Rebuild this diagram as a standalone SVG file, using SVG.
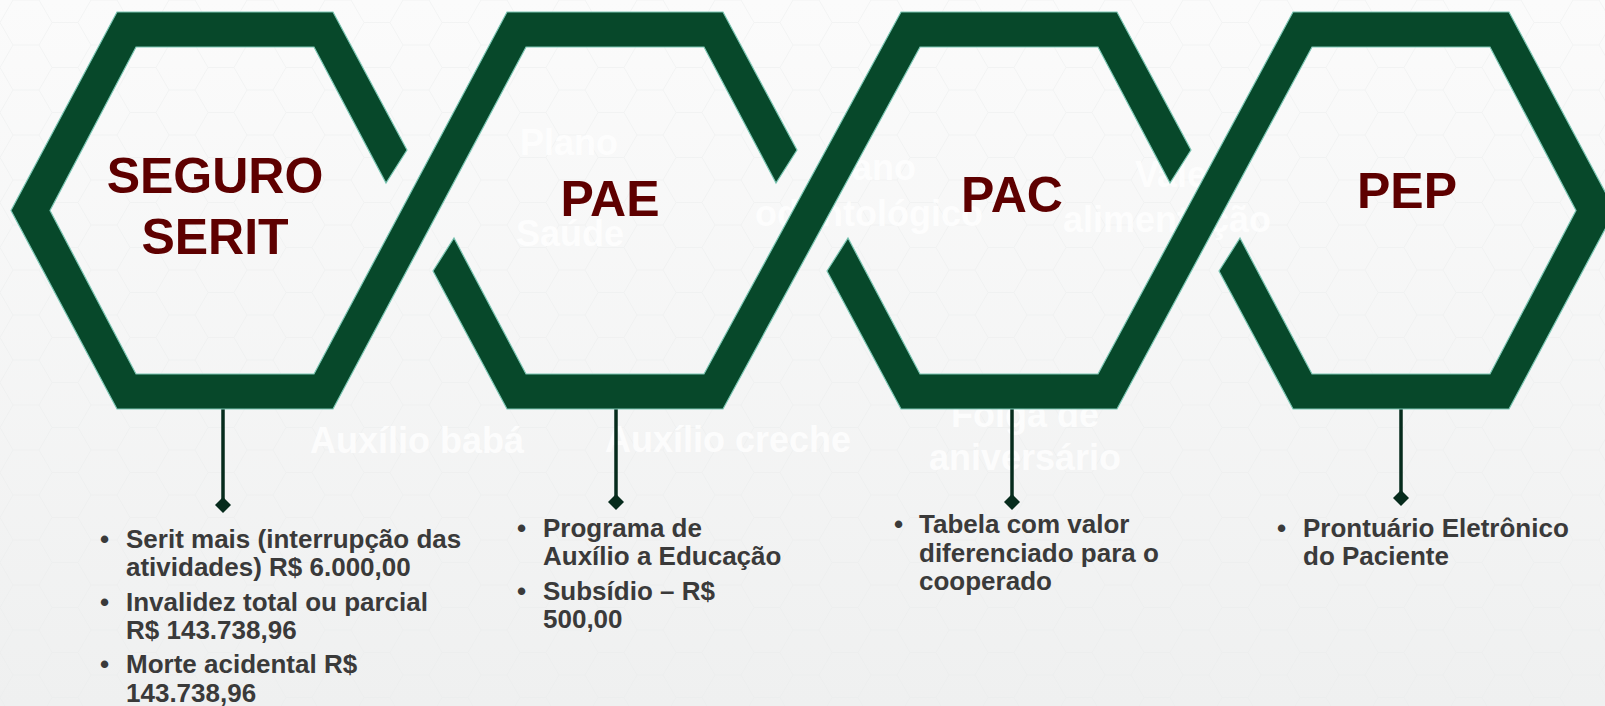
<svg xmlns="http://www.w3.org/2000/svg" width="1605" height="706" viewBox="0 0 1605 706">
<defs>
<linearGradient id="bg" x1="0" y1="0" x2="0" y2="1">
<stop offset="0" stop-color="#fbfbfb"/>
<stop offset="1" stop-color="#eff0f0"/>
</linearGradient>
<pattern id="honey" width="78" height="45" patternUnits="userSpaceOnUse">
<path d="M0,22.5 L13,0 L39,0 L52,22.5 L39,45 L13,45 Z M52,22.5 L78,22.5" fill="none" stroke="#e9ebeb" stroke-width="1"/>
</pattern>
<style>
.hex{fill:#07482a;stroke:#7cc6b4;stroke-width:1.2;stroke-linejoin:miter}
.title{font-family:"Liberation Sans",Arial,sans-serif;font-weight:bold;font-size:50px;fill:#5e0000;text-anchor:middle}
.item{font-family:"Liberation Sans",Arial,sans-serif;font-weight:bold;font-size:26px;fill:#3a3a3a}
.ghost{font-family:"Liberation Sans",Arial,sans-serif;font-weight:bold;font-size:36px;fill:#ffffff;opacity:0.8}
.bgline{stroke:#ffffff;stroke-width:2;fill:none;opacity:0.8}
.conn{stroke:#062b1c;stroke-width:3.5;fill:none}
.dia{fill:#062b1c}
</style>
</defs>
<rect width="1605" height="706" fill="url(#bg)"/>
<rect width="1605" height="706" fill="url(#honey)" opacity="0.45"/>
<g id="ghost-text">
<text class="ghost" x="520" y="155">Plano</text>
<text class="ghost" x="516" y="246">Saúde</text>
<text class="ghost" x="818" y="180">Plano</text>
<text class="ghost" x="755" y="226">odontológico</text>
<text class="ghost" x="1135" y="187">Vale</text>
<text class="ghost" x="1063" y="232">alimentação</text>
<text class="ghost" x="310" y="453">Auxílio babá</text>
<text class="ghost" x="605" y="452">Auxílio creche</text>
<text class="ghost" x="1025" y="427" text-anchor="middle">Folga de</text>
<text class="ghost" x="1025" y="470" text-anchor="middle">aniversário</text>
</g>
<g id="connectors">
<line class="conn" x1="223" y1="409" x2="223" y2="502"/>
<path class="dia" d="M223,497 L231,505 L223,513 L215,505 Z"/>
<line class="conn" x1="616" y1="409" x2="616" y2="499"/>
<path class="dia" d="M616,494 L624,502 L616,510 L608,502 Z"/>
<line class="conn" x1="1012" y1="409" x2="1012" y2="499"/>
<path class="dia" d="M1012,494 L1020,502 L1012,510 L1004,502 Z"/>
<line class="conn" x1="1401" y1="409" x2="1401" y2="495"/>
<path class="dia" d="M1401,490 L1409,498 L1401,506 L1393,498 Z"/>
</g>
<g id="hex-chain">
<path class="hex" d="M407,150 L333,12 L117,12 L11,210.5 L117,409 L333,409 L526,47 L704,47 L776,183 L797,150 L723,12 L507,12 L314,374 L136,374 L50,210.5 L136,47 L314,47 L386,183 Z"/>
<path class="hex" d="M433,271 L507,409 L723,409 L920,47 L1098,47 L1170,183 L1191,150 L1117,12 L901,12 L704,374 L526,374 L454,238 Z"/>
<path class="hex" d="M827,271 L901,409 L1117,409 L1312,47 L1490,47 L1576,210.5 L1490,374 L1312,374 L1240,238 L1219,271 L1293,409 L1509,409 L1615,210.5 L1509,12 L1293,12 L1098,374 L920,374 L848,238 Z"/>
</g>
<g id="node-seguro">
<text class="title" x="215" y="193">SEGURO</text>
<text class="title" x="215" y="254">SERIT</text>
<text class="item" x="100" y="548">•</text>
<text class="item" x="126" y="548">Serit mais (interrupção das</text>
<text class="item" x="126" y="576">atividades) R$ 6.000,00</text>
<text class="item" x="100" y="611">•</text>
<text class="item" x="126" y="611">Invalidez total ou parcial</text>
<text class="item" x="126" y="639">R$ 143.738,96</text>
<text class="item" x="100" y="673">•</text>
<text class="item" x="126" y="673">Morte acidental R$</text>
<text class="item" x="126" y="702">143.738,96</text>
</g>
<g id="node-pae">
<text class="title" x="610" y="216">PAE</text>
<text class="item" x="517" y="537">•</text>
<text class="item" x="543" y="537">Programa de</text>
<text class="item" x="543" y="565">Auxílio a Educação</text>
<text class="item" x="517" y="600">•</text>
<text class="item" x="543" y="600">Subsídio – R$</text>
<text class="item" x="543" y="628">500,00</text>
</g>
<g id="node-pac">
<text class="title" x="1012" y="212">PAC</text>
<text class="item" x="894" y="533">•</text>
<text class="item" x="919" y="533">Tabela com valor</text>
<text class="item" x="919" y="562">diferenciado para o</text>
<text class="item" x="919" y="590">cooperado</text>
</g>
<g id="node-pep">
<text class="title" x="1407" y="208">PEP</text>
<text class="item" x="1277" y="537">•</text>
<text class="item" x="1303" y="537">Prontuário Eletrônico</text>
<text class="item" x="1303" y="565">do Paciente</text>
</g>
</svg>
